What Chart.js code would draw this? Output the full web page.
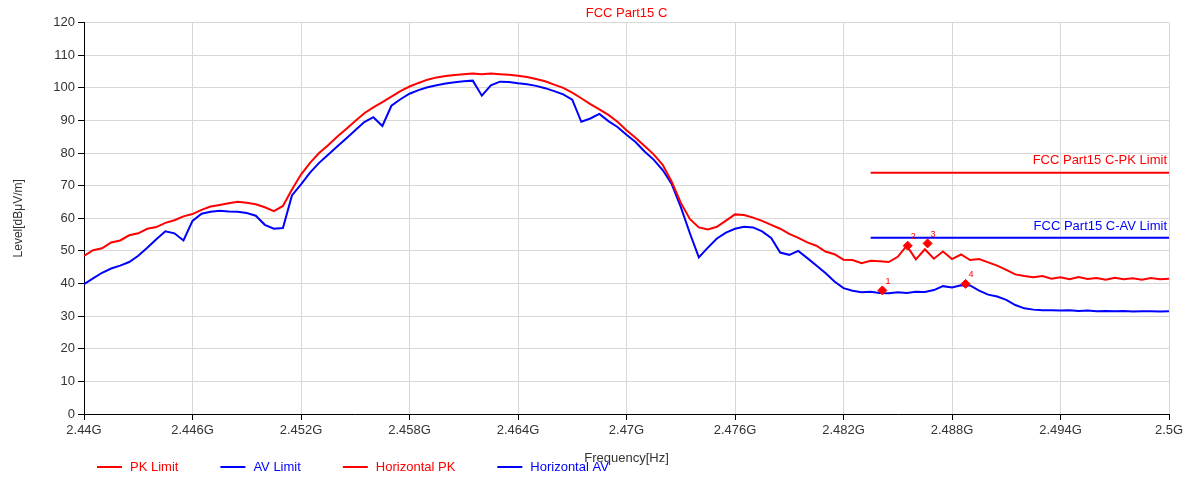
<!DOCTYPE html>
<html>
<head>
<meta charset="utf-8">
<script src="https://cdn.jsdelivr.net/npm/chart.js@4.4.0/dist/chart.umd.min.js"></script>
<style>
html, body { margin: 0; padding: 0; background: #fff; }
</style>
</head>
<body>
<canvas id="emc-chart" width="1189" height="481"></canvas>
<script>
// sweep frequencies, MHz
const freqMHz = [
    2440, 2440.5, 2441, 2441.5, 2442, 2442.5, 2443, 2443.5, 2444, 2444.5,
    2445, 2445.5, 2446, 2446.5, 2447, 2447.5, 2448, 2448.5, 2449, 2449.5,
    2450, 2450.5, 2451, 2451.5, 2452, 2452.5, 2453, 2453.5, 2454, 2454.5,
    2455, 2455.5, 2456, 2456.5, 2457, 2457.5, 2458, 2458.5, 2459, 2459.5,
    2460, 2460.5, 2461, 2461.5, 2462, 2462.5, 2463, 2463.5, 2464, 2464.5,
    2465, 2465.5, 2466, 2466.5, 2467, 2467.5, 2468, 2468.5, 2469, 2469.5,
    2470, 2470.5, 2471, 2471.5, 2472, 2472.5, 2473, 2473.5, 2474, 2474.5,
    2475, 2475.5, 2476, 2476.5, 2477, 2477.5, 2478, 2478.5, 2479, 2479.5,
    2480, 2480.5, 2481, 2481.5, 2482, 2482.5, 2483, 2483.5, 2484, 2484.5,
    2485, 2485.5, 2486, 2486.5, 2487, 2487.5, 2488, 2488.5, 2489, 2489.5,
    2490, 2490.5, 2491, 2491.5, 2492, 2492.5, 2493, 2493.5, 2494, 2494.5,
    2495, 2495.5, 2496, 2496.5, 2497, 2497.5, 2498, 2498.5, 2499, 2499.5,
    2500
];

// Horizontal PK, dBuV/m
const horizPK = [
    48.5, 50.2, 50.8, 52.6, 53.2, 54.8, 55.4, 56.8, 57.3, 58.6,
    59.4, 60.6, 61.3, 62.6, 63.6, 64.1, 64.6, 65.1, 64.8, 64.3,
    63.4, 62.2, 63.8, 68.8, 73.4, 77.0, 80.0, 82.4, 85.0, 87.4,
    89.8, 92.2, 94.0, 95.6, 97.3, 99.0, 100.4, 101.5, 102.5, 103.2,
    103.6, 103.9, 104.2, 104.4, 104.2, 104.4, 104.2, 104.0, 103.7, 103.3,
    102.7, 102.0, 101.0, 100.0, 98.5, 96.8, 95.0, 93.4, 91.7, 89.6,
    87.0, 84.7, 82.2, 79.6, 76.4, 71.2, 64.8, 59.8, 57.2, 56.6,
    57.4, 59.3, 61.2, 61.0, 60.2, 59.2, 58.0, 56.8, 55.2, 54.0,
    52.6, 51.6, 49.8, 49.0, 47.3, 47.2, 46.2, 47.0, 46.8, 46.6,
    48.2, 51.6, 47.4, 50.5, 47.6, 49.8, 47.5, 48.9, 47.2, 47.5,
    46.5, 45.5, 44.2, 42.8, 42.3, 41.9, 42.3, 41.5, 41.9, 41.3,
    42.0, 41.4, 41.7, 41.2, 41.8, 41.3, 41.6, 41.2, 41.7, 41.3,
    41.5
];

// Horizontal AV, dBuV/m
const horizAV = [
    39.8, 41.6, 43.3, 44.6, 45.5, 46.6, 48.5, 51.0, 53.6, 56.0,
    55.4, 53.2, 59.2, 61.4, 62.0, 62.3, 62.1, 62.0, 61.6, 60.8,
    58.0, 56.8, 57.0, 67.0, 70.4, 74.0, 77.0, 79.5, 82.0, 84.5,
    87.0, 89.5, 91.0, 88.3, 94.5, 96.5, 98.2, 99.3, 100.2, 100.8,
    101.3, 101.7, 102.0, 102.2, 97.6, 100.8, 101.9, 101.8, 101.4, 101.1,
    100.6, 99.9, 99.0, 98.0, 96.4, 89.6, 90.6, 92.0, 89.8, 88.0,
    85.6, 83.4, 80.5, 78.0, 74.8, 70.5, 63.5, 55.5, 48.0, 51.0,
    53.8, 55.6, 56.8, 57.4, 57.2, 56.0, 54.0, 49.5, 48.8, 50.0,
    47.8, 45.5, 43.2, 40.6, 38.6, 37.8, 37.3, 37.5, 37.1, 37.0,
    37.3, 37.1, 37.5, 37.4, 38.0, 39.2, 38.8, 39.5, 39.4, 37.8,
    36.6, 36.0, 35.0, 33.4, 32.4, 32.0, 31.8, 31.8, 31.7, 31.8,
    31.6, 31.7, 31.5, 31.6, 31.5, 31.6, 31.4, 31.5, 31.5, 31.4,
    31.5
];

// FCC Part15 C limits (restricted band above 2483.5 MHz)
const limitFreq = [2483.5, 2500];
const pkLimit = [74, 74];
const avLimit = [54, 54];

// markers
const markerFreq = [2484.15, 2485.55, 2486.65, 2488.75];
const markerLevel = [37.9, 51.6, 52.3, 39.9];
const markerNo = ['1', '2', '3', '4'];

const yTicks = [0, 10, 20, 30, 40, 50, 60, 70, 80, 90, 100, 110, 120];

const RED = '#ff0000';
const BLUE = '#0000ff';
const FONT = 'Arial, "Liberation Sans", sans-serif';

function pts(xs, ys) {
    return xs.map(function(x, i) { return { x: x, y: ys[i] }; });
}

// limit captions, marker numbers and the bottom legend
const extras = {
    id: 'extras',
    afterDatasetsDraw: function(chart) {
        const ctx = chart.ctx;
        const area = chart.chartArea;
        const y = chart.scales.y;
        ctx.save();
        ctx.font = '13px ' + FONT;
        ctx.textAlign = 'right';
        ctx.textBaseline = 'middle';
        ctx.fillStyle = RED;
        ctx.fillText('FCC Part15 C-PK Limit', area.right - 2, y.getPixelForValue(pkLimit[0]) - 12);
        ctx.fillStyle = BLUE;
        ctx.fillText('FCC Part15 C-AV Limit', area.right - 2, y.getPixelForValue(avLimit[0]) - 11);

        // marker numbers
        const meta = chart.getDatasetMeta(0);
        ctx.font = '9px ' + FONT;
        ctx.textAlign = 'left';
        ctx.fillStyle = RED;
        meta.data.forEach(function(p, i) {
            ctx.fillText(markerNo[i], p.x + 3, p.y - 9);
        });

        // legend
        ctx.font = '13px ' + FONT;
        ctx.lineWidth = 2;
        let lx = 97;
        const ly = 467;
        chart.data.datasets.forEach(function(ds) {
            if (ds.hideLegend) return;
            ctx.strokeStyle = ds.borderColor;
            ctx.beginPath();
            ctx.moveTo(lx, ly);
            ctx.lineTo(lx + 25, ly);
            ctx.stroke();
            ctx.fillStyle = ds.borderColor;
            ctx.fillText(ds.label, lx + 33, ly);
            lx += 33 + ctx.measureText(ds.label).width + 42;
        });
        ctx.restore();
    }
};

const chart = new Chart(document.getElementById('emc-chart'), {
    type: 'line',
    data: {
        datasets: [
            {
                label: 'Markers',
                hideLegend: true,
                data: pts(markerFreq, markerLevel),
                showLine: false,
                pointStyle: 'rectRot',
                pointRadius: 4.5,
                backgroundColor: RED,
                borderColor: RED,
                order: 0
            },
            {
                label: 'PK Limit',
                data: pts(limitFreq, pkLimit),
                borderColor: RED,
                borderWidth: 2,
                pointRadius: 0,
                order: 1
            },
            {
                label: 'AV Limit',
                data: pts(limitFreq, avLimit),
                borderColor: BLUE,
                borderWidth: 2,
                pointRadius: 0,
                order: 1
            },
            {
                label: 'Horizontal PK',
                data: pts(freqMHz, horizPK),
                borderColor: RED,
                borderWidth: 2,
                pointRadius: 0,
                tension: 0,
                order: 2
            },
            {
                label: 'Horizontal AV',
                data: pts(freqMHz, horizAV),
                borderColor: BLUE,
                borderWidth: 2,
                pointRadius: 0,
                tension: 0,
                order: 2
            }
        ]
    },
    options: {
        responsive: false,
        animation: false,
        devicePixelRatio: 1,
        layout: {
            padding: { left: 0, right: 20, top: 0, bottom: 0 }
        },
        plugins: {
            legend: { display: false },
            tooltip: { enabled: false },
            title: {
                display: true,
                text: 'FCC Part15 C',
                color: RED,
                fullSize: false,
                font: { size: 13, family: FONT, weight: 'normal' },
                padding: { top: 6, bottom: 1 }
            }
        },
        scales: {
            x: {
                type: 'linear',
                min: 2440,
                max: 2500,
                afterFit: function(s) { s.height = 67; },
                ticks: {
                    stepSize: 6,
                    color: '#333',
                    padding: 3,
                    maxRotation: 0,
                    font: { size: 13, family: FONT },
                    callback: function(v) { return (v / 1000) + 'G'; }
                },
                grid: {
                    color: '#d8d8d8',
                    tickColor: '#000',
                    tickLength: 6
                },
                border: { color: '#000', width: 1 },
                title: {
                    display: true,
                    text: 'Frequency[Hz]',
                    color: '#333',
                    font: { size: 13, family: FONT },
                    padding: { top: 0, bottom: 15 }
                }
            },
            y: {
                min: 0,
                max: 120,
                afterFit: function(s) { s.width = 84; },
                afterBuildTicks: function(s) {
                    s.ticks = yTicks.map(function(v) { return { value: v }; });
                },
                ticks: {
                    color: '#333',
                    padding: 3,
                    font: { size: 13, family: FONT }
                },
                grid: {
                    color: '#d8d8d8',
                    tickColor: '#000',
                    tickLength: 6
                },
                border: { color: '#000', width: 1 },
                title: {
                    display: true,
                    text: 'Level[dBμV/m]',
                    color: '#333',
                    font: { size: 12, family: FONT },
                    padding: { top: 11, bottom: 0 }
                }
            }
        }
    },
    plugins: [extras]
});
</script>
</body>
</html>
